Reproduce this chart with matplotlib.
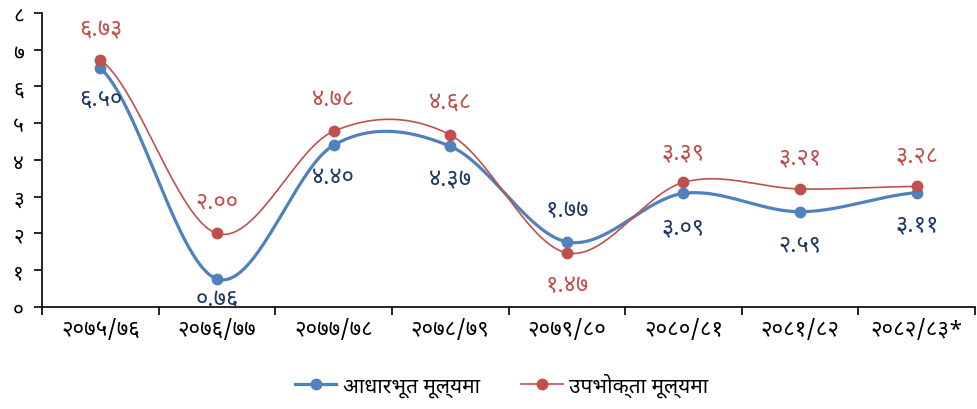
import matplotlib
matplotlib.use('Agg')
import matplotlib.pyplot as plt
import numpy as np

plt.rcParams['font.family'] = ['Noto Sans Devanagari', 'Noto Sans Devanagari UI', 'DejaVu Sans']

# fiscal years and growth rates (percent)
years = ['२०७५/७६', '२०७६/७७', '२०७७/७८', '२०७८/७९', '२०७९/८०', '२०८०/८१', '२०८१/८२', '२०८२/८३*']
basic_price = [6.50, 0.76, 4.40, 4.37, 1.77, 3.09, 2.59, 3.11]
consumer_price = [6.73, 2.00, 4.78, 4.68, 1.47, 3.39, 3.21, 3.28]

# label offsets in points (positive = above the marker)
basic_offsets = [-22, -14, -23, -24, 23, -24, -23, -23]
consumer_offsets = [22, 23, 23, 24, -23, 22, 23, 22]

blue = '#4F81BD'
red = '#C0504D'

nep_digits = str.maketrans('0123456789', '०१२३४५६७८९')


def nep(s):
    return str(s).translate(nep_digits)


def smooth(y, n=40):
    # bezier smoothing through every point, like a spreadsheet "smoothed line"
    y = np.asarray(y, dtype=float)
    x = np.arange(len(y), dtype=float)
    xs, ys = [], []
    for i in range(len(y) - 1):
        y0 = y[i - 1] if i > 0 else y[i]
        y3 = y[i + 2] if i + 2 < len(y) else y[i + 1]
        c1 = y[i] + (y[i + 1] - y0) / 6
        c2 = y[i + 1] - (y3 - y[i]) / 6
        t = np.linspace(0, 1, n)
        yy = (1 - t) ** 3 * y[i] + 3 * (1 - t) ** 2 * t * c1 + 3 * (1 - t) * t ** 2 * c2 + t ** 3 * y[i + 1]
        xs.append(x[i] + t)
        ys.append(yy)
    return np.concatenate(xs), np.concatenate(ys)


fig = plt.figure(figsize=(9.78, 4.1), dpi=100)
ax = fig.add_axes([0.043, 0.249, 0.954, 0.717])

x = np.arange(len(years))

sx, sy = smooth(basic_price)
ax.plot(sx, sy, color=blue, lw=2.3, zorder=3)
ax.plot(x, basic_price, 'o', color=blue, ms=7.5, zorder=4)

sx, sy = smooth(consumer_price)
ax.plot(sx, sy, color=red, lw=1.2, zorder=3)
ax.plot(x, consumer_price, 'o', color=red, ms=7.5, zorder=5)

for i, v in enumerate(basic_price):
    ax.annotate(nep('%.2f' % v), (i, v), xytext=(0, basic_offsets[i]), textcoords='offset points',
                ha='center', va='center', fontsize=17, color='#1F3864')
for i, v in enumerate(consumer_price):
    ax.annotate(nep('%.2f' % v), (i, v), xytext=(0, consumer_offsets[i]), textcoords='offset points',
                ha='center', va='center', fontsize=17, fontweight='bold', color=red)

ax.set_xlim(-0.5, len(years) - 0.5)
ax.set_ylim(0, 8)
ax.set_yticks(range(9))
ax.set_yticklabels([nep(i) for i in range(9)], fontsize=15)
ax.set_xticks(np.arange(len(years) + 1) - 0.5)
ax.set_xticklabels([])
ax.set_xticks(x, minor=True)
ax.set_xticklabels(years, minor=True, fontsize=16)
ax.tick_params(axis='x', which='minor', length=0, pad=8)
ax.tick_params(axis='x', which='major', length=6, width=1.2, direction='out')
ax.tick_params(axis='y', length=6, width=1.2, direction='out', pad=7)

for side in ['top', 'right']:
    ax.spines[side].set_visible(False)
ax.spines['left'].set_linewidth(1.2)
ax.spines['bottom'].set_linewidth(1.2)

h1, = ax.plot([], [], '-o', color=blue, lw=2.3, ms=7.5)
h2, = ax.plot([], [], '-o', color=red, lw=1.2, ms=7.5)
fig.legend([h1, h2], ['आधारभूत मूल्यमा', 'उपभोक्ता मूल्यमा'], loc='center', bbox_to_anchor=(0.513, 0.06),
           ncol=2, frameon=False, fontsize=15, handlelength=2.0, handletextpad=0.3, columnspacing=2.0)

fig.savefig('out.png', dpi=100)
